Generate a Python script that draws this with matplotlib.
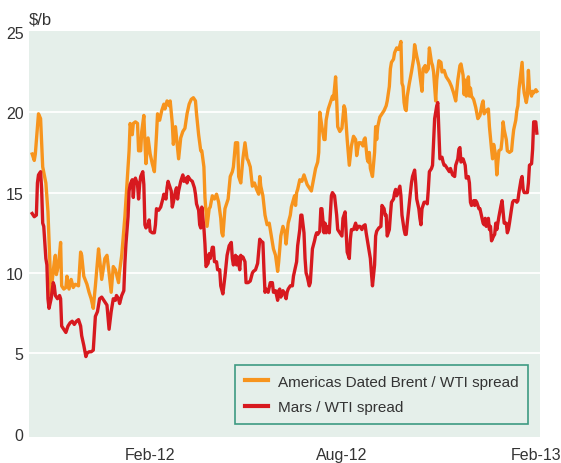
import numpy as np
import pandas as pd
import matplotlib
matplotlib.use("Agg")
import matplotlib.pyplot as plt
import matplotlib.dates as mdates

# days since 2011-10-12, values in $/b
start = pd.Timestamp("2011-10-12")

brent_days = [0, 2, 3, 6, 8, 9, 10, 13, 15, 16, 18, 19, 21, 22, 23, 25, 27, 28, 30, 32,
              33, 35, 37, 39, 41, 44, 46, 47, 49, 52, 54, 56, 58, 60, 63, 64, 66, 69, 71, 73,
              75, 77, 79, 82, 83, 85, 88, 90, 92, 93, 95, 96, 98, 100, 101, 103, 104, 106, 107, 108,
              110, 112, 114, 116, 118, 119, 121, 123, 125, 126, 128, 130, 131, 133, 134, 136, 138, 139, 141, 143,
              145, 147, 149, 151, 153, 155, 156, 158, 160, 161, 163, 164, 166, 168, 169, 171, 173, 175, 177, 179,
              180, 181, 183, 186, 188, 190, 191, 193, 195, 196, 198, 200, 202, 204, 205, 207, 209, 211, 213, 215,
              216, 217, 219, 221, 223, 225, 227, 229, 231, 233, 234, 236, 238, 240, 241, 243, 245, 246, 249, 250,
              251, 252, 254, 256, 258, 259, 261, 263, 265, 267, 269, 271, 272, 273, 275, 277, 278, 279, 281, 283,
              285, 286, 288, 289, 290, 292, 294, 296, 297, 299, 300, 301, 303, 305, 307, 308, 310, 312, 314, 315,
              316, 318, 319, 320, 321, 323, 325, 326, 327, 328, 330, 332, 334, 336, 337, 339, 340, 341, 343, 344,
              346, 348, 350, 351, 352, 353, 354, 355, 356, 358, 360, 362, 363, 365, 367, 368, 370, 371, 373, 374,
              376, 377, 379, 380, 381, 383, 384, 386, 388, 389, 391, 393, 395, 396, 398, 400, 402, 404, 406, 407,
              409, 410, 411, 412, 414, 415, 416, 417, 419, 421, 423, 425, 427, 428, 429, 431, 433, 434, 436, 437,
              438, 440, 441, 442, 443, 445, 446, 447, 448, 450, 451, 453, 455, 456, 457, 459, 460, 461, 462, 464,
              465, 466, 467, 469, 470, 471, 472, 474, 475, 476, 478, 479]
brent = [17.4, 17.0, 17.4, 19.9, 19.6, 18.1, 16.6, 15.6, 13.8, 12.1, 8.6, 9.5, 10.7, 11.1, 9.9, 10.5, 11.9, 9.2, 9.0, 9.1,
         9.8, 9.0, 9.6, 9.1, 9.3, 9.2, 11.3, 11.1, 9.8, 9.3, 8.8, 8.4, 7.8, 9.2, 11.5, 10.9, 9.6, 10.9, 11.1, 10.0,
         8.8, 10.4, 10.2, 9.4, 10.1, 11.1, 13.5, 15.5, 17.6, 19.3, 18.6, 19.3, 19.4, 19.3, 17.6, 17.6, 18.8, 19.8, 18.2, 16.8,
         18.4, 17.4, 16.8, 16.3, 18.6, 19.9, 19.5, 20.1, 20.5, 20.2, 20.7, 20.4, 20.7, 19.3, 18.0, 19.1, 17.8, 17.1, 18.4, 18.8,
         19.0, 19.9, 20.5, 20.8, 20.9, 20.7, 19.9, 18.6, 17.6, 17.6, 16.6, 14.7, 12.9, 14.0, 14.1, 14.8, 14.6, 14.9, 14.4, 13.4,
         12.5, 12.3, 14.0, 14.6, 16.0, 16.3, 16.6, 18.1, 18.1, 16.0, 15.6, 17.1, 18.1, 17.1, 17.0, 16.6, 15.4, 15.6, 15.2, 14.9,
         16.0, 15.4, 14.8, 13.6, 13.0, 13.1, 12.3, 11.5, 11.1, 10.1, 10.7, 12.3, 12.9, 12.5, 11.8, 13.1, 13.6, 14.1, 14.8, 14.2,
         15.0, 15.2, 15.8, 15.7, 16.1, 15.9, 15.5, 15.3, 15.1, 15.8, 16.5, 16.9, 17.5, 20.0, 19.1, 18.3, 18.3, 19.5, 20.2, 20.6,
         21.0, 20.8, 22.2, 20.8, 19.1, 18.8, 19.0, 20.4, 20.2, 18.3, 17.5, 16.7, 17.9, 18.5, 18.3, 17.3, 18.1, 18.1, 17.9, 18.3,
         18.4, 17.1, 16.9, 17.5, 16.5, 16.0, 17.5, 19.1, 18.3, 19.1, 19.7, 19.9, 20.1, 20.4, 20.7, 21.6, 22.7, 23.1, 23.3, 23.7,
         24.0, 23.9, 24.4, 21.8, 21.6, 20.6, 20.2, 20.1, 21.0, 21.8, 22.5, 23.3, 24.2, 23.5, 22.9, 22.3, 21.3, 22.7, 22.9, 22.5,
         22.7, 24.0, 23.1, 22.9, 22.5, 20.7, 22.0, 23.2, 23.1, 22.5, 22.6, 22.2, 22.0, 21.9, 21.6, 21.2, 20.7, 22.0, 22.9, 23.0,
         22.3, 21.1, 22.0, 21.0, 22.2, 21.0, 21.5, 21.0, 20.8, 20.3, 19.6, 19.8, 20.5, 20.7, 19.9, 20.1, 20.2, 19.1, 17.7, 17.1,
         18.0, 17.3, 16.1, 16.9, 17.6, 17.7, 18.3, 19.4, 18.9, 18.3, 17.6, 17.5, 17.6, 18.3, 18.9, 19.5, 20.1, 20.4, 21.4, 22.5,
         23.1, 21.8, 21.2, 20.6, 21.0, 22.6, 21.4, 21.0, 21.3, 21.2, 21.4, 21.3]

mars_days = [0, 2, 4, 5, 6, 8, 9, 10, 11, 13, 14, 15, 16, 18, 20, 21, 22, 24, 26, 27,
             28, 30, 32, 34, 36, 38, 40, 42, 44, 46, 47, 49, 51, 52, 54, 56, 58, 60, 62, 64,
             66, 68, 69, 71, 73, 75, 77, 79, 80, 82, 83, 85, 87, 88, 89, 91, 92, 93, 95, 96,
             97, 98, 100, 101, 102, 103, 105, 106, 107, 108, 110, 111, 112, 114, 116, 117, 118, 120, 122, 124,
             125, 127, 128, 129, 131, 132, 133, 134, 136, 137, 138, 139, 141, 142, 143, 144, 146, 147, 148, 150,
             152, 154, 155, 156, 158, 159, 160, 161, 163, 164, 165, 167, 168, 169, 171, 172, 173, 175, 176, 178,
             179, 181, 183, 185, 187, 189, 190, 191, 193, 194, 195, 197, 198, 199, 200, 202, 203, 205, 207, 209,
             210, 212, 214, 216, 217, 219, 220, 221, 222, 224, 226, 228, 229, 231, 233, 234, 235, 236, 238, 239,
             241, 242, 243, 245, 247, 248, 250, 251, 252, 254, 255, 256, 258, 259, 260, 261, 263, 264, 265, 266,
             268, 269, 270, 271, 273, 274, 275, 277, 278, 279, 280, 282, 283, 284, 285, 287, 288, 289, 290, 292,
             293, 294, 295, 297, 298, 299, 301, 302, 303, 305, 307, 308, 309, 311, 313, 314, 316, 317, 319, 321,
             322, 323, 325, 326, 327, 329, 331, 332, 334, 335, 336, 337, 339, 340, 341, 343, 344, 345, 346, 348,
             349, 350, 351, 353, 354, 355, 356, 358, 359, 360, 361, 363, 364, 365, 367, 368, 369, 370, 372, 374,
             375, 376, 377, 379, 380, 381, 382, 384, 385, 386, 387, 389, 390, 391, 392, 394, 395, 396, 397, 399,
             401, 402, 404, 405, 406, 407, 409, 410, 411, 412, 414, 415, 416, 417, 419, 420, 421, 422, 424, 425,
             426, 428, 429, 430, 431, 433, 434, 435, 436, 438, 439, 440, 441, 443, 445, 446, 447, 448, 450, 451,
             452, 453, 455, 456, 457, 459, 460, 461, 462, 464, 465, 466, 467, 469, 470, 471, 472, 474, 475, 476,
             478, 479]
mars = [13.7, 13.5, 13.6, 15.6, 16.1, 16.3, 15.2, 13.1, 12.9, 10.9, 10.5, 8.4, 7.8, 8.4, 9.4, 9.2, 8.6, 8.4, 8.6, 8.4,
        6.7, 6.5, 6.3, 6.7, 6.9, 7.0, 6.8, 7.0, 7.1, 6.7, 6.1, 5.5, 4.8, 5.0, 5.1, 5.1, 5.2, 7.3, 7.6, 8.4,
        8.5, 8.3, 8.2, 8.0, 6.5, 7.6, 8.4, 8.3, 8.6, 8.4, 8.1, 8.6, 8.9, 10.6, 11.8, 13.5, 15.1, 15.5, 15.8, 14.7,
        15.7, 15.9, 15.5, 14.6, 15.5, 16.0, 16.3, 15.5, 13.0, 12.8, 13.0, 13.3, 12.6, 12.5, 12.5, 13.0, 14.0, 13.9, 14.1, 14.6,
        14.9, 14.6, 15.3, 15.7, 15.3, 15.1, 14.1, 14.4, 15.1, 15.3, 14.6, 15.1, 15.7, 15.9, 16.1, 15.7, 15.9, 15.6, 16.0, 15.8,
        15.7, 15.3, 14.9, 14.3, 13.9, 13.0, 12.8, 14.1, 12.8, 11.8, 10.4, 10.6, 11.2, 10.9, 11.6, 11.6, 10.7, 10.7, 10.2, 10.2,
        9.2, 8.7, 9.8, 11.1, 11.7, 11.9, 10.9, 10.5, 11.1, 10.5, 11.0, 10.2, 11.1, 10.9, 11.0, 10.7, 9.4, 9.4, 9.5, 10.0,
        10.1, 10.2, 10.6, 12.1, 12.0, 11.9, 10.2, 8.8, 9.0, 8.8, 9.4, 9.4, 8.8, 8.9, 8.3, 8.9, 9.0, 8.5, 8.9, 8.8,
        8.4, 8.8, 9.0, 9.2, 9.2, 9.8, 10.4, 10.7, 11.7, 12.7, 13.6, 13.6, 12.5, 10.9, 10.0, 9.8, 9.2, 9.4, 10.5, 11.5,
        12.0, 12.3, 12.5, 12.4, 12.6, 14.0, 14.0, 12.5, 13.1, 12.5, 12.9, 12.5, 13.6, 14.8, 15.0, 14.8, 14.2, 13.6, 12.7, 12.5,
        12.4, 12.3, 13.4, 13.8, 12.5, 11.3, 10.9, 12.1, 12.7, 12.7, 13.1, 12.7, 12.9, 12.9, 12.7, 12.9, 13.0, 12.5, 11.7, 10.9,
        10.0, 9.2, 10.5, 12.3, 12.6, 12.8, 12.9, 14.2, 14.0, 13.6, 13.6, 12.3, 12.7, 13.6, 14.4, 14.6, 15.0, 15.2, 14.8, 15.2,
        15.4, 14.8, 13.6, 12.7, 12.4, 12.4, 13.1, 14.4, 15.0, 15.6, 16.0, 16.4, 15.6, 14.6, 14.0, 13.4, 13.0, 14.0, 14.4, 14.4,
        14.3, 15.2, 16.3, 16.5, 16.7, 18.1, 19.6, 20.4, 20.6, 18.9, 17.1, 17.2, 16.9, 16.7, 16.7, 16.5, 16.4, 16.3, 16.5, 16.1,
        16.0, 16.7, 17.1, 17.7, 17.8, 16.9, 17.1, 16.9, 16.7, 15.9, 16.0, 15.6, 14.4, 14.2, 14.5, 14.2, 14.5, 14.4, 14.0, 14.0,
        13.7, 13.1, 13.0, 13.4, 12.9, 13.4, 12.7, 12.9, 12.0, 12.3, 12.4, 13.1, 12.7, 13.5, 14.2, 14.5, 13.8, 13.1, 13.1, 12.5,
        12.7, 13.1, 14.0, 14.4, 14.5, 14.5, 14.4, 14.5, 15.0, 15.8, 16.0, 15.2, 15.0, 15.0, 15.0, 15.6, 16.7, 16.8, 17.7, 19.4,
        19.4, 18.7]

y_ticks = [0, 5, 10, 15, 20, 25]
x_ticks = ["2012-02-01", "2012-08-01", "2013-02-01"]

bg = "#e5efea"
orange = "#f7941d"
red = "#d7191f"
txt = "#333333"
plt.rcParams["font.family"] = ["Liberation Sans", "DejaVu Sans"]

brent_dates = start + pd.to_timedelta(brent_days, unit="D")
mars_dates = start + pd.to_timedelta(mars_days, unit="D")

fig = plt.figure(figsize=(5.61, 4.64), dpi=100)
ax = fig.add_axes([29 / 561, 26 / 464, 511 / 561, 406 / 464])
ax.set_facecolor(bg)

for y in y_ticks[1:-1]:
    ax.axhline(y, color="white", lw=1.3, zorder=1)

ax.plot(brent_dates, brent, color=orange, lw=2.4, solid_joinstyle="round",
        label="Americas Dated Brent / WTI spread", zorder=3)
ax.plot(mars_dates, mars, color=red, lw=2.4, solid_joinstyle="round",
        label="Mars / WTI spread", zorder=4)

ax.set_ylim(-0.2, 25.05)
ax.set_xlim(start - pd.Timedelta(days=3), start + pd.Timedelta(days=482))
ax.set_yticks(y_ticks)
ax.set_xticks(pd.to_datetime(x_ticks))
ax.xaxis.set_major_formatter(mdates.DateFormatter("%b-%y"))
ax.tick_params(length=0, labelsize=11.5, colors=txt)
ax.tick_params(axis="y", pad=4)
ax.tick_params(axis="x", pad=7)
for s in ax.spines.values():
    s.set_visible(False)

fig.text(29 / 561, 1 - 20 / 464, "$/b", fontsize=12, color=txt, va="center", ha="left")

leg = ax.legend(loc="lower right", bbox_to_anchor=(0.977, 0.032), borderaxespad=0,
                fontsize=11, frameon=True, fancybox=False, framealpha=1,
                facecolor=bg, edgecolor="#3d9a82", handlelength=1.5,
                handletextpad=0.65, labelspacing=0.75, borderpad=0.65)
leg.get_frame().set_linewidth(1.2)
for t in leg.get_texts():
    t.set_color(txt)
for h in leg.get_lines():
    h.set_linewidth(3)

fig.savefig("out.png", dpi=100)
